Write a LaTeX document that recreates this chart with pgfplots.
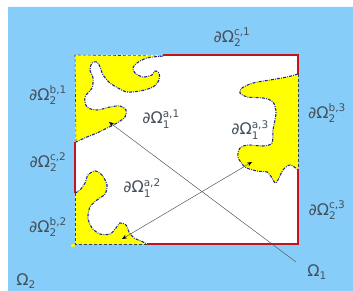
\documentclass[border=0pt]{standalone}
\usepackage{pgfplots}
\pgfplotsset{compat=1.18}
\usepackage{fontspec}
\setmainfont{DejaVu Sans}
\usetikzlibrary{arrows.meta}
\definecolor{bgblue}{HTML}{87CDF9}
\definecolor{ryel}{HTML}{FFFF00}
\definecolor{rred}{HTML}{C0141E}
\definecolor{dblue}{HTML}{1E2A9A}
\definecolor{txt}{HTML}{45505B}
\newcommand{\scr}[1]{\mbox{\fontsize{10.5}{11}\selectfont #1}}
\newcommand{\dO}[2]{\fontsize{16}{18}\selectfont ∂Ω$^{\scr{#1}}_{\scr{#2}}$}
\newcommand{\Om}[1]{\fontsize{16}{18}\selectfont Ω$_{\scr{#1}}$}
\begin{document}
\begin{tikzpicture}
\begin{axis}[
  width=353pt, height=291pt, scale only axis,
  xmin=0, xmax=353, ymin=0, ymax=291, y dir=reverse,
  hide axis, clip=false,
]
% background
\addplot[fill=white, draw=none] coordinates {(0,0) (353,0) (353,291) (0,291) (0,0)};
\addplot[fill=bgblue, draw=none] coordinates {(8,7) (353,7) (353,291) (8,291) (8,7)};
% Omega_1 rectangle
\addplot[fill=white, draw=none] coordinates {(75,55) (298,55) (298,244) (75,244) (75,55)};
% yellow 1 fill
\addplot[fill=ryel, draw=none, smooth, tension=0.5] coordinates {
 (75,55) (75,55) (163,56) (163,56) (147,58) (137,63) (133,68) (135,73) (143,77) (152,75) (155,71) (159,73) (159,80) (153,87) (140,91) (127,92) (118,88) (110,83) (103,75) (100,67) (97,62) (92,63) (90,70) (93,78) (92,88) (85,97) (87,107) (97,110) (110,107) (120,106) (126,110) (125,117) (117,123) (107,128) (97,133) (87,137) (76,142) (76,142) (75,142) (75,142) (75,55) (75,55)};
% yellow 2 fill
\addplot[fill=ryel, draw=none, smooth, tension=0.5] coordinates {
 (75,193) (75,193) (80,190) (85,183) (88,175) (95,171) (102,175) (107,185) (105,194) (97,200) (90,207) (88,218) (92,228) (100,234) (110,234) (116,228) (120,223) (126,225) (129,232) (134,238) (141,241) (147,244) (147,244) (75,244) (75,244) (75,193) (75,193)};
% yellow 3 fill
\addplot[fill=ryel, draw=none, smooth, tension=0.5] coordinates {
 (298,74) (298,74) (287,77) (270,80) (253,83) (242,88) (240,93) (247,97) (263,98) (273,102) (276,113) (273,130) (272,143) (263,146) (248,145) (240,148) (238,157) (245,167) (257,171) (267,172) (272,178) (275,183) (278,180) (283,170) (290,165) (297,169) (297,169) (298,169) (298,169) (298,74) (298,74)};
% dashed straight edges of yellow regions
\addplot[densely dashed, black!75, line width=0.6pt] coordinates {(76,142) (75,55) (163,56)};
\addplot[densely dashed, black!75, line width=0.6pt] coordinates {(75,193) (75,244) (147,244)};
\addplot[densely dashed, black!75, line width=0.6pt] coordinates {(298,74) (298,169)};
% red boundary
\addplot[rred, line width=1.5pt] coordinates {(163,55) (298,55) (298,74)};
\addplot[rred, line width=1.5pt] coordinates {(298,169) (298,244) (147,244)};
\addplot[rred, line width=1.5pt] coordinates {(75,142) (75,193)};
% dash-dot curved boundaries
\addplot[dblue, line width=1.1pt, dash pattern=on 3pt off 1.2pt on 0.8pt off 1.2pt, smooth, tension=0.5] coordinates {
 (163,56) (147,58) (137,63) (133,68) (135,73) (143,77) (152,75) (155,71) (159,73) (159,80) (153,87) (140,91) (127,92) (118,88) (110,83) (103,75) (100,67) (97,62) (92,63) (90,70) (93,78) (92,88) (85,97) (87,107) (97,110) (110,107) (120,106) (126,110) (125,117) (117,123) (107,128) (97,133) (87,137) (76,142)};
\addplot[dblue, line width=1.1pt, dash pattern=on 3pt off 1.2pt on 0.8pt off 1.2pt, smooth, tension=0.5] coordinates {
 (75,193) (80,190) (85,183) (88,175) (95,171) (102,175) (107,185) (105,194) (97,200) (90,207) (88,218) (92,228) (100,234) (110,234) (116,228) (120,223) (126,225) (129,232) (134,238) (141,241) (147,244)};
\addplot[dblue, line width=1.1pt, dash pattern=on 3pt off 1.2pt on 0.8pt off 1.2pt, smooth, tension=0.5] coordinates {
 (298,74) (287,77) (270,80) (253,83) (242,88) (240,93) (247,97) (263,98) (273,102) (276,113) (273,130) (272,143) (263,146) (248,145) (240,148) (238,157) (245,167) (257,171) (267,172) (272,178) (275,183) (278,180) (283,170) (290,165) (297,169)};
% arrows
\addplot[black!65, line width=0.5pt, -{Stealth[length=5pt,width=4pt,black]}] coordinates {(296,262) (109,122)};
\addplot[black!65, line width=0.5pt, {Stealth[length=5pt,width=4pt,black]}-{Stealth[length=5pt,width=4pt,black]}] coordinates {(122,239) (252,162)};
% labels
\node[text=txt, inner sep=0pt] at (axis cs:232,37) {\dO{c,1}{2}};
\node[text=txt, inner sep=0pt] at (axis cs:48,95) {\dO{b,1}{2}};
\node[text=txt, inner sep=0pt] at (axis cs:161,119) {\dO{a,1}{1}};
\node[text=txt, inner sep=0pt] at (axis cs:327,113) {\dO{b,3}{2}};
\node[text=txt, inner sep=0pt] at (axis cs:250,130) {\dO{a,3}{1}};
\node[text=txt, inner sep=0pt] at (axis cs:48,162) {\dO{c,2}{2}};
\node[text=txt, inner sep=0pt] at (axis cs:142,188) {\dO{a,2}{1}};
\node[text=txt, inner sep=0pt] at (axis cs:48,227) {\dO{b,2}{2}};
\node[text=txt, inner sep=0pt] at (axis cs:327,210) {\dO{c,3}{2}};
\node[text=txt, inner sep=0pt] at (axis cs:26,281) {\Om{2}};
\node[text=txt, inner sep=0pt] at (axis cs:317,272) {\Om{1}};
\end{axis}
\end{tikzpicture}
\end{document}
